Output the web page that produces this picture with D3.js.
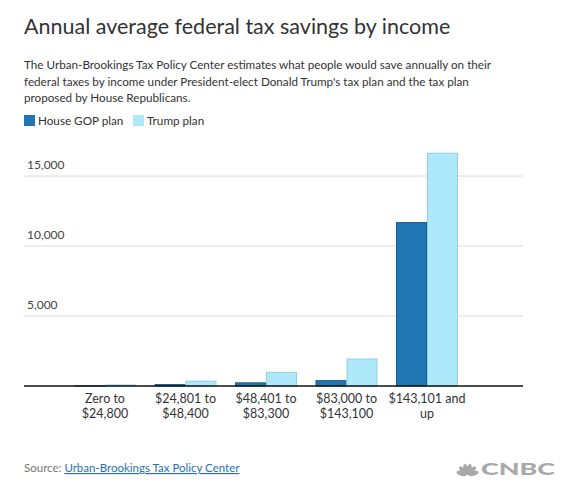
<!DOCTYPE html>
<html>
<head>
<meta charset="utf-8">
<script src="https://cdn.jsdelivr.net/npm/d3@7"></script>
<style>
  body { margin: 0; background: #fff; }
  svg text { font-family: Lato, "Open Sans", sans-serif; }
</style>
</head>
<body>
<svg class="chart_svg" width="572" height="499"></svg>
<script>
// values (dollars saved per year)
const incomeGroups = ["g1", "g2", "g3", "g4", "g5"]
const groupLabels = [
    ["Zero to", "$24,800"],
    ["$24,801 to", "$48,400"],
    ["$48,401 to", "$83,300"],
    ["$83,000 to", "$143,100"],
    ["$143,101 and", "up"]
]
const seriesNames = ["House GOP plan", "Trump plan"]
const houseGop = [50, 140, 260, 420, 11710]
const trumpPlan = [110, 380, 1010, 1960, 16660]
const yTicks = [5000, 10000, 15000]

const subtitleLines = [
    "The Urban-Brookings Tax Policy Center estimates what people would save annually on their",
    "federal taxes by income under President-elect Donald Trump's tax plan and the tax plan",
    "proposed by House Republicans."
]

const colors = {"House GOP plan": "#2077b4", "Trump plan": "#aee9fb"}
const strokes = {"House GOP plan": "#175d8e", "Trump plan": "#8fd0e4"}

const svg = d3.select(".chart_svg")

// title + subtitle
svg.append("text")
    .attr("x", 24)
    .attr("y", 34)
    .attr("font-size", "21.5px")
    .attr("fill", "#333")
    .text("Annual average federal tax savings by income")

svg.selectAll(".subtitle")
    .data(subtitleLines)
    .enter()
    .append("text")
    .attr("class", "subtitle")
    .attr("x", 24)
    .attr("y", (d, i) => 69 + i * 16.5)
    .attr("font-size", "11.7px")
    .attr("fill", "#333")
    .text(d => d)

// legend
const legend = svg.append("g").attr("transform", "translate(24, 115)")
const legendX = [0, 109]
seriesNames.forEach((name, i) => {
    legend.append("rect")
        .attr("x", legendX[i])
        .attr("y", 0)
        .attr("width", 11)
        .attr("height", 11)
        .attr("fill", colors[name])
    legend.append("text")
        .attr("x", legendX[i] + 14)
        .attr("y", 10)
        .attr("font-size", "11.7px")
        .attr("fill", "#333")
        .text(name)
})

// scales
const x = d3.scaleBand()
    .domain(incomeGroups)
    .range([64.75, 467.25])
    .paddingInner(0.23)
    .paddingOuter(0.115)

const xSeries = d3.scaleBand()
    .domain(seriesNames)
    .range([0, x.bandwidth()])

const y = d3.scaleLinear()
    .domain([0, 15000])
    .range([386, 176])

const plotLeft = 24, plotRight = 523

// gridlines + tick labels
const grid = svg.append("g")
grid.selectAll("line")
    .data(yTicks)
    .enter()
    .append("line")
    .attr("x1", plotLeft)
    .attr("x2", plotRight)
    .attr("y1", d => y(d))
    .attr("y2", d => y(d))
    .attr("stroke", "#dcdcdc")
    .attr("stroke-width", 1)

grid.selectAll("text")
    .data(yTicks)
    .enter()
    .append("text")
    .attr("x", 27)
    .attr("y", d => y(d) - 7)
    .attr("font-size", "12px")
    .attr("fill", "#444")
    .text(d => d3.format(",")(d))

// bars
const plotData = []
incomeGroups.forEach((g, i) => {
    plotData.push({group: g, series: "House GOP plan", value: houseGop[i]})
    plotData.push({group: g, series: "Trump plan", value: trumpPlan[i]})
})

svg.append("g")
    .selectAll("rect")
    .data(plotData)
    .enter()
    .append("rect")
    .attr("x", d => x(d.group) + xSeries(d.series) + 0.5)
    .attr("y", d => y(d.value) + 0.5)
    .attr("width", xSeries.bandwidth() - 1)
    .attr("height", d => Math.max(0, y(0) - y(d.value) - 0.5))
    .attr("fill", d => colors[d.series])
    .attr("stroke", d => strokes[d.series])
    .attr("stroke-width", 1)

// baseline
svg.append("line")
    .attr("x1", plotLeft)
    .attr("x2", plotRight)
    .attr("y1", y(0))
    .attr("y2", y(0))
    .attr("stroke", "#111")
    .attr("stroke-width", 1.5)

// x labels (two lines each)
const xLabels = svg.append("g")
incomeGroups.forEach((g, i) => {
    const t = xLabels.append("text")
        .attr("x", x(g) + x.bandwidth() / 2)
        .attr("y", 403)
        .attr("text-anchor", "middle")
        .attr("font-size", "12.5px")
        .attr("fill", "#333")
    groupLabels[i].forEach((line, j) => {
        t.append("tspan")
            .attr("x", x(g) + x.bandwidth() / 2)
            .attr("dy", j === 0 ? 0 : 14.7)
            .text(line)
    })
})

// source
const src = svg.append("text")
    .attr("x", 24)
    .attr("y", 472)
    .attr("font-size", "11.5px")
    .attr("fill", "#777")
src.append("tspan").text("Source: ")
src.append("tspan")
    .attr("fill", "#2a6fb5")
    .attr("text-decoration", "underline")
    .text("Urban-Brookings Tax Policy Center")

// CNBC mark
const logo = svg.append("g").attr("transform", "translate(457, 460)")
const featherAngles = [-75, -45, -15, 15, 45, 75]
logo.selectAll("ellipse")
    .data(featherAngles)
    .enter()
    .append("ellipse")
    .attr("cx", 10.5)
    .attr("cy", 15)
    .attr("rx", 2.4)
    .attr("ry", 5.5)
    .attr("fill", "#a9a9a9")
    .attr("transform", d => `rotate(${d}, 10.5, 15) translate(0, -6)`)
logo.append("text")
    .attr("x", 24)
    .attr("y", 15)
    .attr("font-size", "16px")
    .attr("font-weight", "900")
    .attr("font-family", "'DejaVu Sans', sans-serif")
    .attr("textLength", 74)
    .attr("lengthAdjust", "spacingAndGlyphs")
    .attr("fill", "#a9a9a9")
    .text("CNBC")
</script>
</body>
</html>
